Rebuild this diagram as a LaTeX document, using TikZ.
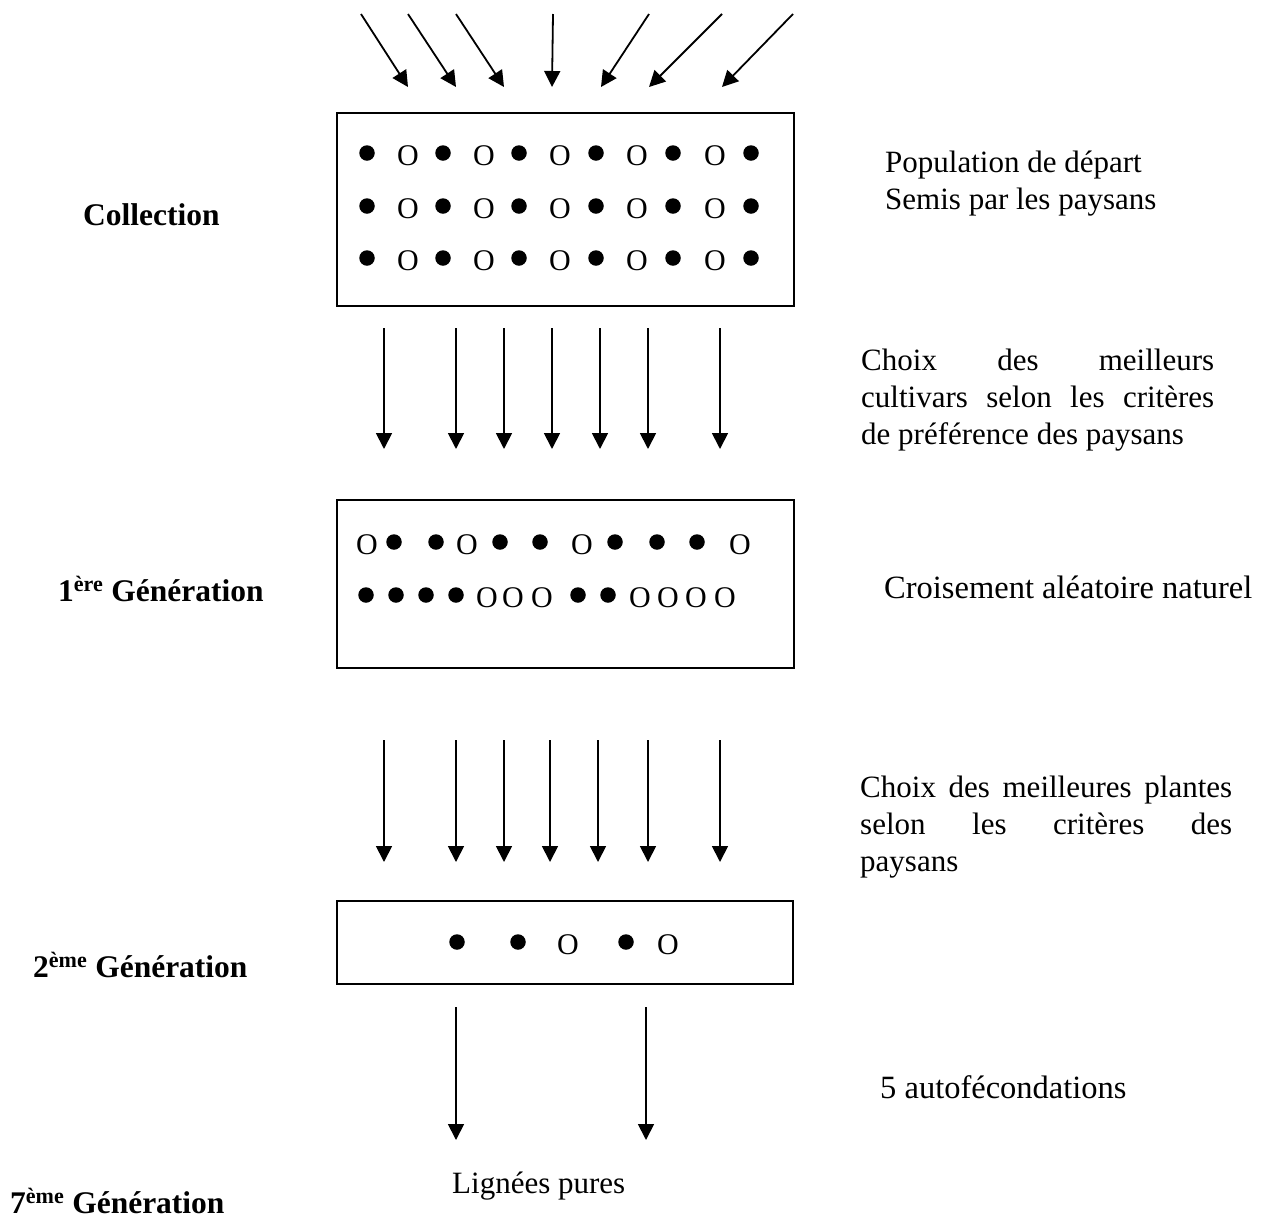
\documentclass[tikz,border=0pt]{standalone}
\usepackage{fontspec}
\setmainfont{Liberation Serif}
\usetikzlibrary{arrows.meta}
\begin{document}
\begin{tikzpicture}[x=1pt,y=-1pt,
  arr/.style={line width=1.8pt,-{Triangle[length=16pt,width=16pt]}},
  box/.style={draw,line width=1.8pt,inner sep=0pt,anchor=north west},
  full/.style={circle,fill=black,inner sep=0pt,minimum size=15.5pt},
  hollow/.style={inner sep=0pt,font=\fontsize{30}{30}\selectfont},
  lab/.style={inner sep=0pt,anchor=base west,font=\fontsize{31}{37}\selectfont},
  biglab/.style={inner sep=0pt,anchor=base west,font=\fontsize{32.5}{37}\selectfont},
  blab/.style={inner sep=0pt,anchor=base west,font=\bfseries\fontsize{31.5}{37}\selectfont}]
\useasboundingbox (0,0) rectangle (1262,1219);

% boxes
\node[box,minimum width=457pt,minimum height=193pt] (b1) at (336,112) {};
\node[box,minimum width=457pt,minimum height=168pt] (b2) at (336,499) {};
\node[box,minimum width=456pt,minimum height=83pt] (b3) at (336,900) {};

% box 1 content
\foreach \y [count=\r] in {153,206,258}{
  \foreach \x [count=\i] in {367,443,519,596,673,751}
    \node[full] (a\r f\i) at (\x,\y) {};
  \foreach \x [count=\i] in {408,484,560,637,715}
    \node[hollow] (a\r o\i) at (\x,\y+3) {O};
}

% box 2 content
\foreach \x [count=\i] in {394,436,500,540,615,657,697}
  \node[full] (b1f\i) at (\x,542) {};
\foreach \x [count=\i] in {367,467,582,740}
  \node[hollow] (b1o\i) at (\x,545) {O};
\foreach \x [count=\i] in {366,396,426,456,578,608}
  \node[full] (b2f\i) at (\x,595) {};
\foreach \x [count=\i] in {487,513,542,640,668,696,725}
  \node[hollow] (b2o\i) at (\x,598) {O};

% box 3 content
\foreach \x [count=\i] in {457,518,626}
  \node[full] (c1f\i) at (\x,942) {};
\foreach \x [count=\i] in {568,668}
  \node[hollow] (c1o\i) at (\x,945) {O};

% top arrows
\foreach \sx/\ex [count=\i] in {361/408,408/456,456/504,553/552,649/601,722/649,793/722}{
  \coordinate (ts\i) at (\sx,14);
  \coordinate (te\i) at (\ex,87);
  \draw[arr] (ts\i) -- (te\i);
}
% second set
\foreach \x [count=\i] in {384,456,504,552,600,648,720}{
  \coordinate (ms\i) at (\x,328);
  \coordinate (me\i) at (\x,449);
  \draw[arr] (ms\i) -- (me\i);
}
% third set
\foreach \x [count=\i] in {384,456,504,550,598,648,720}{
  \coordinate (ns\i) at (\x,740);
  \coordinate (ne\i) at (\x,862);
  \draw[arr] (ns\i) -- (ne\i);
}
% fourth set
\foreach \x [count=\i] in {456,646}{
  \coordinate (ls\i) at (\x,1007);
  \coordinate (le\i) at (\x,1140);
  \draw[arr] (ls\i) -- (le\i);
}

% left labels
\node[blab] (lcol) at (83,225) {Collection};
\node[blab] (lg1) at (58,601) {1\textsuperscript{ère} Génération};
\node[blab] (lg2) at (33,977) {2\textsuperscript{ème} Génération};
\node[blab] (lg7) at (10,1213) {7\textsuperscript{ème} Génération};
\node[lab] (lp) at (452,1193) {Lignées pures};

% right labels
\node[lab] (p1) at (885,172) {Population de départ};
\node[lab] (p2) at (885,209) {Semis par les paysans};
\node[lab] (c1) at (861,370) {\makebox[353pt][s]{Choix des meilleurs}};
\node[lab] (c2) at (861,407) {\makebox[353pt][s]{cultivars selon les critères}};
\node[lab] (c3) at (861,444) {de préférence des paysans};
\node[biglab] (cr) at (884,598) {Croisement aléatoire naturel};
\node[lab] (d1) at (860,797) {\makebox[372pt][s]{Choix des meilleures plantes}};
\node[lab] (d2) at (860,834) {\makebox[372pt][s]{selon les critères des}};
\node[lab] (d3) at (860,871) {paysans};
\node[biglab] (a5) at (880,1098) {5 autofécondations};
\end{tikzpicture}
\end{document}
